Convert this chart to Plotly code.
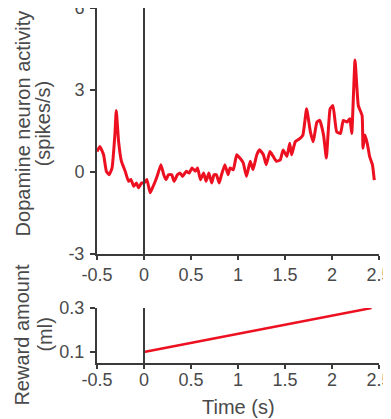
import plotly.graph_objects as go
from plotly.subplots import make_subplots

# ---- data ----
time_s = [-0.5, -0.47, -0.43, -0.40, -0.37, -0.34, -0.31, -0.295, -0.27, -0.24,
          -0.2, -0.165, -0.14, -0.11, -0.08, -0.06, -0.025, 0.0, 0.03, 0.065,
          0.09, 0.12, 0.145, 0.18, 0.21, 0.235, 0.26, 0.295, 0.32, 0.355,
          0.385, 0.41, 0.45, 0.48, 0.51, 0.545, 0.57, 0.6, 0.635, 0.66,
          0.69, 0.72, 0.745, 0.77, 0.8, 0.82, 0.86, 0.895, 0.915, 0.95,
          0.986, 1.02, 1.056, 1.09, 1.13, 1.16, 1.2, 1.23, 1.27, 1.3,
          1.34, 1.375, 1.41, 1.45, 1.48, 1.52, 1.55, 1.57, 1.61, 1.66,
          1.69, 1.73, 1.77, 1.8, 1.84, 1.87, 1.91, 1.94, 1.98, 2.01,
          2.05, 2.09, 2.12, 2.16, 2.19, 2.21, 2.245, 2.28, 2.32, 2.33,
          2.35, 2.375, 2.40, 2.43, 2.45]
activity = [0.75, 0.93, 0.63, 0.02, -0.1, 0.15, 1.35, 2.25, 1.1, 0.39,
            0.03, -0.34, -0.27, -0.52, -0.4, -0.58, -0.4, -0.4, -0.27, -0.76,
            -0.58, -0.34, -0.1, 0.27, -0.1, -0.28, -0.1, -0.1, -0.34, -0.1,
            -0.04, -0.16, 0.03, -0.04, 0.15, 0.03, 0.15, -0.28, -0.04, -0.34,
            -0.04, -0.4, -0.1, -0.1, -0.4, -0.16, 0.27, -0.1, 0.15, 0.08,
            0.63, 0.51, 0.33, -0.16, 0.39, 0.09, 0.63, 0.81, 0.63, 0.27,
            0.75, 0.57, 0.39, 0.45, 0.81, 0.57, 1.05, 0.63, 1.11, 1.23,
            1.35, 2.31, 1.47, 1.11, 1.83, 1.89, 1.35, 0.51, 2.31, 2.43,
            1.47, 1.41, 1.89, 1.83, 1.95, 1.41, 4.1, 2.43, 2.07, 0.87,
            1.35, 1.05, 0.57, 0.27, -0.3]
reward_time = [0.0, 2.42]
reward_amount = [0.1, 0.3]

x_ticks = [-0.5, 0, 0.5, 1, 1.5, 2, 2.5]
x_ticklabels = ["-0.5", "0", "0.5", "1", "1.5", "2", "2.5"]
act_ticks = [-3, 0, 3, 6]
act_ticklabels = ["-3", "0", "3", "6"]
rew_ticks = [0.1, 0.3]
rew_ticklabels = ["0.1", "0.3"]

RED = "#ec1020"
AX = "#3a3a3a"
TXT = "#4a4a4a"
FONT = "Liberation Sans, Arial, sans-serif"
FS = 18

fig = make_subplots(rows=2, cols=1)
fig.add_trace(go.Scatter(x=time_s, y=activity, mode="lines",
                         line=dict(color=RED, width=3, shape="spline",
                                   smoothing=0.4),
                         showlegend=False, hoverinfo="skip"), row=1, col=1)
fig.add_trace(go.Scatter(x=reward_time, y=reward_amount, mode="lines",
                         line=dict(color=RED, width=2.5), showlegend=False,
                         hoverinfo="skip"), row=2, col=1)

common_x = dict(range=[-0.5, 2.5], tickvals=x_ticks, ticktext=x_ticklabels,
                showline=True, linecolor=AX, linewidth=2, ticks="outside",
                ticklen=4, tickwidth=1.5, tickcolor=AX, showgrid=False,
                zeroline=False, automargin=False, ticklabeloverflow="allow",
                tickfont=dict(family=FONT, size=FS, color=TXT))
fig.update_xaxes(common_x)
fig.update_xaxes(domain=[0, 1], row=1, col=1, ticklabelstandoff=-1)
fig.update_xaxes(domain=[0, 1], row=2, col=1, ticklabelstandoff=-5)

common_y = dict(showline=True, linecolor=AX, linewidth=2, ticks="outside",
                ticklen=5, tickwidth=1.5, tickcolor=AX, showgrid=False,
                zeroline=False, automargin=False, ticklabeloverflow="allow",
                ticklabelstandoff=2,
                tickfont=dict(family=FONT, size=FS, color=TXT))
fig.update_yaxes(common_y)
fig.update_yaxes(domain=[0.3070, 1.0], range=[-3, 6], tickvals=act_ticks,
                 ticktext=act_ticklabels, row=1, col=1)
fig.update_yaxes(domain=[0.0, 0.1549], range=[0.05, 0.3], tickvals=rew_ticks,
                 ticktext=rew_ticklabels, row=2, col=1)

# vertical lines at time 0
fig.add_shape(type="line", xref="x", yref="paper", x0=0, x1=0,
              y0=0.3070, y1=1.0, line=dict(color=AX, width=2))
fig.add_shape(type="line", xref="x2", yref="y2", x0=0, x1=0,
              y0=0.05, y1=0.3, line=dict(color=AX, width=2))

tf = dict(family=FONT, size=20, color=TXT)
def ytitle(text, x, y):
    fig.add_annotation(text=text, textangle=-90, xref="paper", yref="paper",
                       x=x, y=y, xanchor="center", yanchor="middle",
                       showarrow=False, font=tf)

ytitle("Dopamine neuron activity", -0.2624, 0.675)
ytitle("(spikes/s)", -0.1915, 0.675)
ytitle("Reward amount", -0.266, 0.08)
ytitle("(ml)", -0.1844, 0.08)
fig.add_annotation(text="Time (s)", xref="paper", yref="paper",
                   x=0.5035, y=-0.1239, xanchor="center", yanchor="middle",
                   showarrow=False, font=tf)

fig.update_layout(width=383, height=411,
                  margin=dict(l=89, r=12, t=0, b=56, autoexpand=False),
                  paper_bgcolor="white", plot_bgcolor="white",
                  font=dict(family=FONT, color=TXT))

fig.write_html("out.html")
